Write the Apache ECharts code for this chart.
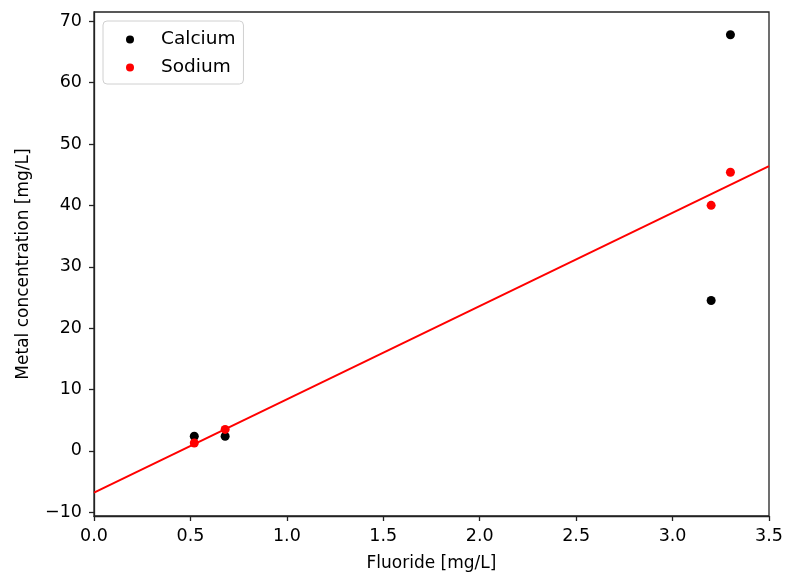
<!DOCTYPE html>
<html>
<head>
<meta charset="utf-8">
<script src="https://cdn.jsdelivr.net/npm/echarts@6/dist/echarts.min.js"></script>
<style>
  html, body { margin: 0; padding: 0; background: #fff; }
  #chart { width: 789px; height: 573px; }
</style>
</head>
<body>
<div id="chart"></div>
<script>
// fluoride values (x)
var fluoride = [0.52, 0.68, 3.2, 3.3];
var calcium = [2.4, 2.4, 24.5, 67.8];
var sodium = [1.3, 3.5, 40.0, 45.4];
// fitted line end points
var fitX = [0, 3.5];
var fitY = [-6.8, 46.4];
var yTicks = [-10, 0, 10, 20, 30, 40, 50, 60, 70];

function pairs(xs, ys) {
    return xs.map(function (x, i) { return [x, ys[i]]; });
}

var font = 'DejaVu Sans';
var axisColor = '#222';

var option = {
    animation: false,
    textStyle: { fontFamily: font },
    grid: {
        left: 94, right: 20, top: 12, bottom: 57,
        outerBoundsMode: 'none',
        show: true, borderColor: axisColor, borderWidth: 1.3
    },
    legend: {
        left: 103, top: 21,
        orient: 'vertical',
        padding: [9, 8, 7, 23],
        itemGap: 9,
        itemWidth: 8, itemHeight: 8,
        borderColor: '#d0d0d0', borderWidth: 1, borderRadius: 4,
        backgroundColor: '#fff',
        textStyle: { fontFamily: font, fontSize: 18.5, color: '#000', padding: [0, 0, 0, 22] },
        data: [
            { name: 'Calcium', icon: 'circle' },
            { name: 'Sodium', icon: 'circle' }
        ]
    },
    xAxis: {
        type: 'value',
        min: 0, max: 3.5, interval: 0.5,
        name: 'Fluoride [mg/L]',
        nameLocation: 'middle', nameGap: 39,
        nameTextStyle: { fontFamily: font, fontSize: 17, color: '#000' },
        axisLine: { show: true, onZero: false, lineStyle: { color: axisColor, width: 1.3 } },
        axisTick: { show: true, inside: false, length: 5, lineStyle: { color: axisColor, width: 1.3 } },
        axisLabel: {
            fontFamily: font, fontSize: 17.5, color: '#000', margin: 11,
            formatter: function (v) { return v.toFixed(1); }
        },
        splitLine: { show: false }
    },
    yAxis: {
        type: 'value',
        min: -10.6, max: 71.5,
        name: 'Metal concentration [mg/L]',
        nameLocation: 'middle', nameGap: 62,
        nameTextStyle: { fontFamily: font, fontSize: 17, color: '#000' },
        axisLine: { show: true, onZero: false, lineStyle: { color: axisColor, width: 1.3 } },
        axisTick: { show: true, inside: false, length: 5, customValues: yTicks, lineStyle: { color: axisColor, width: 1.3 } },
        axisLabel: {
            fontFamily: font, fontSize: 17.5, color: '#000', margin: 12,
            customValues: yTicks,
            formatter: function (v) { return v < 0 ? '\u2212' + Math.abs(v) : String(v); }
        },
        splitLine: { show: false }
    },
    series: [
        {
            name: 'Fit',
            type: 'line',
            data: pairs(fitX, fitY),
            showSymbol: false,
            lineStyle: { color: '#ff0000', width: 2 },
            z: 1
        },
        {
            name: 'Calcium',
            type: 'scatter',
            data: pairs(fluoride, calcium),
            symbolSize: 9,
            itemStyle: { color: '#000', opacity: 1 },
            z: 2
        },
        {
            name: 'Sodium',
            type: 'scatter',
            data: pairs(fluoride, sodium),
            symbolSize: 9,
            itemStyle: { color: '#ff0000', opacity: 1 },
            z: 3
        }
    ]
};

var myChart = echarts.init(document.getElementById('chart'));
myChart.setOption(option);
</script>
</body>
</html>
